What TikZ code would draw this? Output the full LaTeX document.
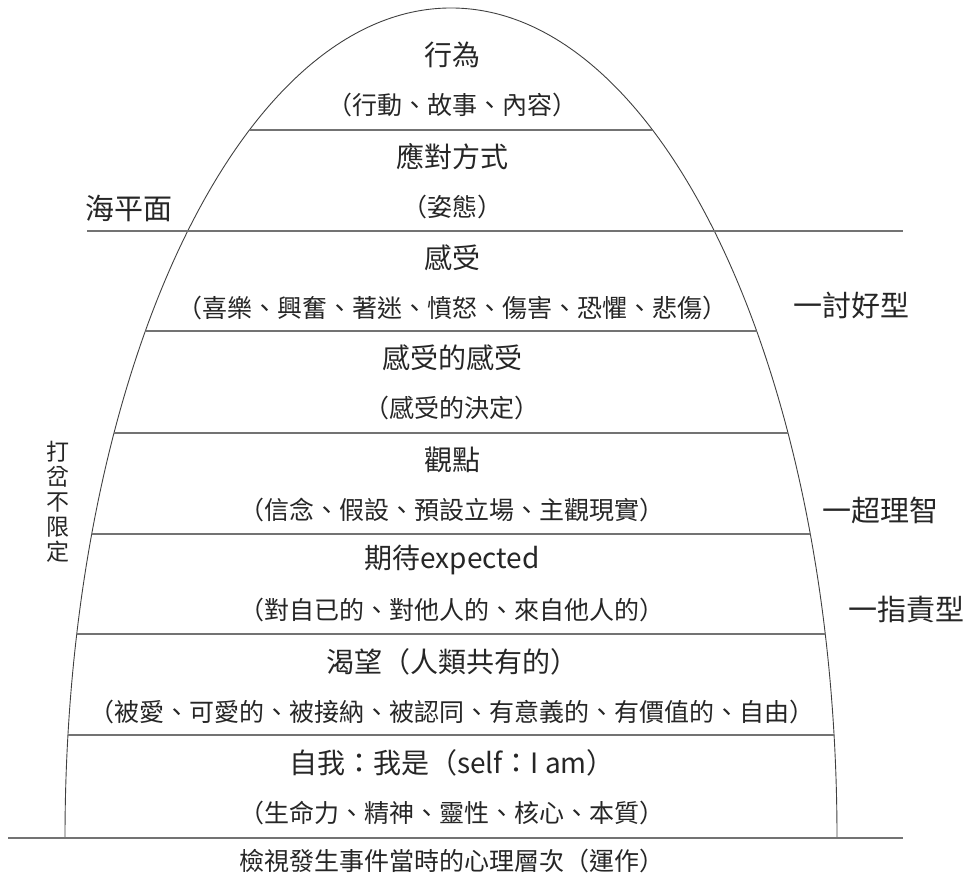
\documentclass[tikz,border=0pt]{standalone}
\usepackage{fontspec}
\setmainfont{Noto Sans CJK TC}
\usepackage{tikz}
\usetikzlibrary{positioning}

\tikzset{
  title/.style={font=\fontsize{28}{31}\selectfont, text=black!85, inner sep=0pt},
  sub/.style={font=\fontsize{25}{28}\selectfont, text=black!85, inner sep=0pt},
  side/.style={font=\fontsize{29}{32}\selectfont, text=black!85, inner sep=0pt},
  layer/.style={line width=1.4pt, draw=black!55},
  hill/.style={line width=0.9pt, draw=black!75}
}

\begin{document}
\begin{tikzpicture}[x=1pt,y=1pt,node distance=50pt,on grid]
    \useasboundingbox (0,0) rectangle (966,882);
    % the hill
    \draw[hill] (65,44) arc[start angle=180,end angle=0,x radius=386pt,y radius=830pt];
    \begin{scope}
      \clip (451,44) ellipse [x radius=386pt, y radius=830pt];
      \draw[layer] (0,752) -- (966,752);
      \draw[layer] (0,551) -- (966,551);
      \draw[layer] (0,449) -- (966,449);
      \draw[layer] (0,348) -- (966,348);
      \draw[layer] (0,248) -- (966,248);
      \draw[layer] (0,147) -- (966,147);
    \end{scope}
    \draw[layer] (87,651) -- (903,651);
    \draw[layer] (8,44) -- (903,44);

    % layers
    \node[title] (act) at (452,827) {行為};
    \node[sub] (actsub) [below = of act] {（行動、故事、內容）};
    \node[title] (cope) at (452,725) {應對方式};
    \node[sub] (copesub) [below = of cope] {（姿態）};
    \node[title] (feel) at (452,624) {感受};
    \node[sub] (feelsub) [below = of feel] {（喜樂、興奮、著迷、憤怒、傷害、恐懼、悲傷）};
    \node[title] (feelfeel) at (452,524) {感受的感受};
    \node[sub] (feelfeelsub) [below = of feelfeel] {（感受的決定）};
    \node[title] (view) at (452,422) {觀點};
    \node[sub] (viewsub) [below = of view] {（信念、假設、預設立場、主觀現實）};
    \node[title] (expect) at (452,322) {期待expected};
    \node[sub] (expectsub) [below = of expect] {（對自已的、對他人的、來自他人的）};
    \node[title] (yearn) at (452,220) {渴望（人類共有的）};
    \node[sub] (yearnsub) [below = of yearn] {（被愛、可愛的、被接納、被認同、有意義的、有價值的、自由）};
    \node[title] (self) at (452,119) {自我：我是（self：I am）};
    \node[sub] (selfsub) [below = of self] {（生命力、精神、靈性、核心、本質）};
    \node[sub] (caption) at (452,21) {檢視發生事件當時的心理層次（運作）};

    % side notes
    \node[side,anchor=west] (sea) at (85,674) {海平面};
    \node[side,anchor=west] (please) at (793,577) {一討好型};
    \node[side,anchor=west] (reason) at (822,372) {一超理智};
    \node[side,anchor=west] (blame) at (848,272) {一指責型};
    \node[font=\fontsize{23}{25}\selectfont, text=black!85, inner sep=0pt, align=center]
      (distract) at (58,380) {打\\岔\\不\\限\\定};
  \end{tikzpicture}
\end{document}
